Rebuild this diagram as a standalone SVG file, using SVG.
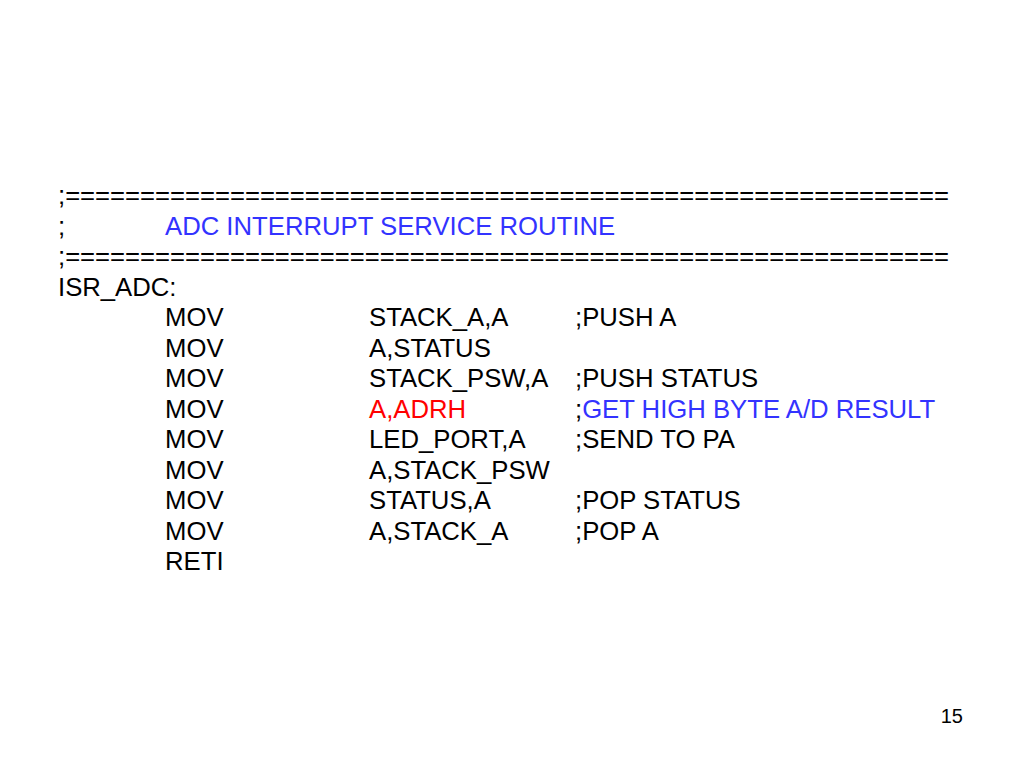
<svg xmlns="http://www.w3.org/2000/svg" width="1024" height="768" viewBox="0 0 1024 768">
<style>
text{font-family:"Liberation Sans",Arial,sans-serif;font-size:25.7px;fill:#000}
.b{fill:#3333FF}
.r{fill:#FF0000}
.pg{font-size:20px}
</style>
<rect width="1024" height="768" fill="#fff"/>
<g id="code">
<text x="58" y="204" textLength="891" lengthAdjust="spacingAndGlyphs">;===========================================================</text>
<text x="58" y="234.5">;</text>
<text x="165" y="234.5" class="b">ADC INTERRUPT SERVICE ROUTINE</text>
<text x="58" y="265" textLength="891" lengthAdjust="spacingAndGlyphs">;===========================================================</text>
<text x="58" y="295.5">ISR_ADC:</text>
<g id="r1"><text x="165" y="326">MOV</text><text x="369" y="326">STACK_A,A</text><text x="575" y="326">;PUSH A</text></g>
<g id="r2"><text x="165" y="356.5">MOV</text><text x="369" y="356.5">A,STATUS</text></g>
<g id="r3"><text x="165" y="387">MOV</text><text x="369" y="387">STACK_PSW,A</text><text x="575" y="387">;PUSH STATUS</text></g>
<g id="r4"><text x="165" y="417.5">MOV</text><text x="369" y="417.5" class="r">A,ADRH</text><text x="575" y="417.5">;<tspan class="b">GET HIGH BYTE A/D RESULT</tspan></text></g>
<g id="r5"><text x="165" y="448">MOV</text><text x="369" y="448">LED_PORT,A</text><text x="575" y="448">;SEND TO PA</text></g>
<g id="r6"><text x="165" y="478.5">MOV</text><text x="369" y="478.5">A,STACK_PSW</text></g>
<g id="r7"><text x="165" y="509">MOV</text><text x="369" y="509">STATUS,A</text><text x="575" y="509">;POP STATUS</text></g>
<g id="r8"><text x="165" y="539.5">MOV</text><text x="369" y="539.5">A,STACK_A</text><text x="575" y="539.5">;POP A</text></g>
<g id="r9"><text x="165" y="570">RETI</text></g>
</g>
<g id="page"><text x="963" y="723" class="pg" text-anchor="end">15</text></g>
</svg>
